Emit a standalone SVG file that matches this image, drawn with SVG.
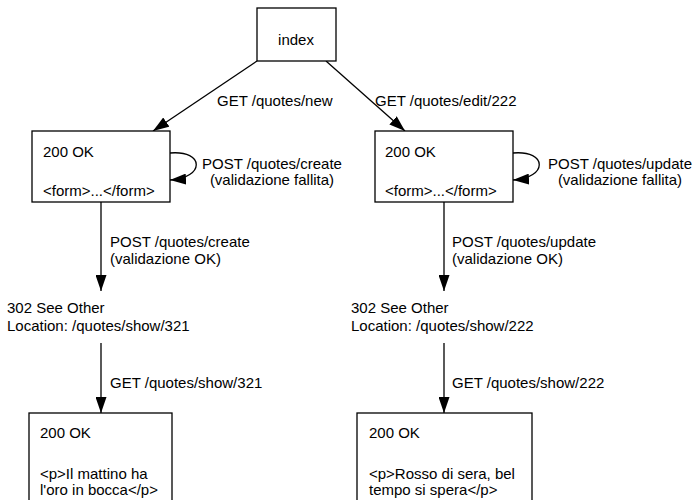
<svg xmlns="http://www.w3.org/2000/svg" width="698" height="500" viewBox="0 0 698 500">
<style>
text{font-family:"Liberation Sans",Arial,sans-serif;font-size:15px;fill:#000}
.box{fill:#fff;stroke:#000;stroke-width:1.3}
.edge{fill:none;stroke:#000;stroke-width:1.3;marker-end:url(#ah)}
.mid{text-anchor:middle}
</style>
<defs>
<marker id="ah" markerUnits="userSpaceOnUse" markerWidth="16" markerHeight="11" refX="16" refY="5.5" orient="auto">
<path d="M0,0 L16,5.5 L0,11 z" fill="#000"/>
</marker>
</defs>
<rect width="698" height="500" fill="#fff"/>
<g id="connectors">
<path class="edge" d="M257,61 L153,131"/>
<path class="edge" d="M326,61 L405,131"/>
<path class="edge" d="M170,153 C205,150 205,178 170,180"/>
<path class="edge" d="M513,153 C548,150 548,178 513,180"/>
<path class="edge" d="M101,202 L101,291"/>
<path class="edge" d="M444,202 L444,291"/>
<path class="edge" d="M101,343 L101,413"/>
<path class="edge" d="M444,343 L444,413"/>
<text x="217" y="106">GET /quotes/new</text>
<text x="375" y="106">GET /quotes/edit/222</text>
<text class="mid" x="272" y="169">POST /quotes/create</text>
<text class="mid" x="272" y="185">(validazione fallita)</text>
<text class="mid" x="620" y="169">POST /quotes/update</text>
<text class="mid" x="620" y="185">(validazione fallita)</text>
<text x="110" y="247">POST /quotes/create</text>
<text x="110" y="264">(validazione OK)</text>
<text x="452" y="247">POST /quotes/update</text>
<text x="452" y="264">(validazione OK)</text>
<text x="110" y="388">GET /quotes/show/321</text>
<text x="452" y="388">GET /quotes/show/222</text>
</g>
<g id="index">
<rect class="box" x="257" y="8" width="79" height="53"/>
<text class="mid" x="296" y="45">index</text>
</g>
<g id="form-new">
<rect class="box" x="32" y="131" width="138" height="71"/>
<text x="43" y="157">200 OK</text>
<text x="43" y="196">&lt;form&gt;...&lt;/form&gt;</text>
</g>
<g id="form-edit">
<rect class="box" x="375" y="131" width="138" height="71"/>
<text x="385" y="157">200 OK</text>
<text x="385" y="196">&lt;form&gt;...&lt;/form&gt;</text>
</g>
<g id="redirect-321">
<text x="7" y="313">302 See Other</text>
<text x="7" y="331">Location: /quotes/show/321</text>
</g>
<g id="redirect-222">
<text x="351" y="313">302 See Other</text>
<text x="351" y="331">Location: /quotes/show/222</text>
</g>
<g id="show-321">
<rect class="box" x="29" y="413" width="143" height="100"/>
<text x="40" y="438">200 OK</text>
<text x="40" y="479">&lt;p&gt;Il mattino ha</text>
<text x="40" y="495">l'oro in bocca&lt;/p&gt;</text>
</g>
<g id="show-222">
<rect class="box" x="357" y="413" width="175" height="100"/>
<text x="369" y="438">200 OK</text>
<text x="369" y="479">&lt;p&gt;Rosso di sera, bel</text>
<text x="369" y="495">tempo si spera&lt;/p&gt;</text>
</g>
</svg>
